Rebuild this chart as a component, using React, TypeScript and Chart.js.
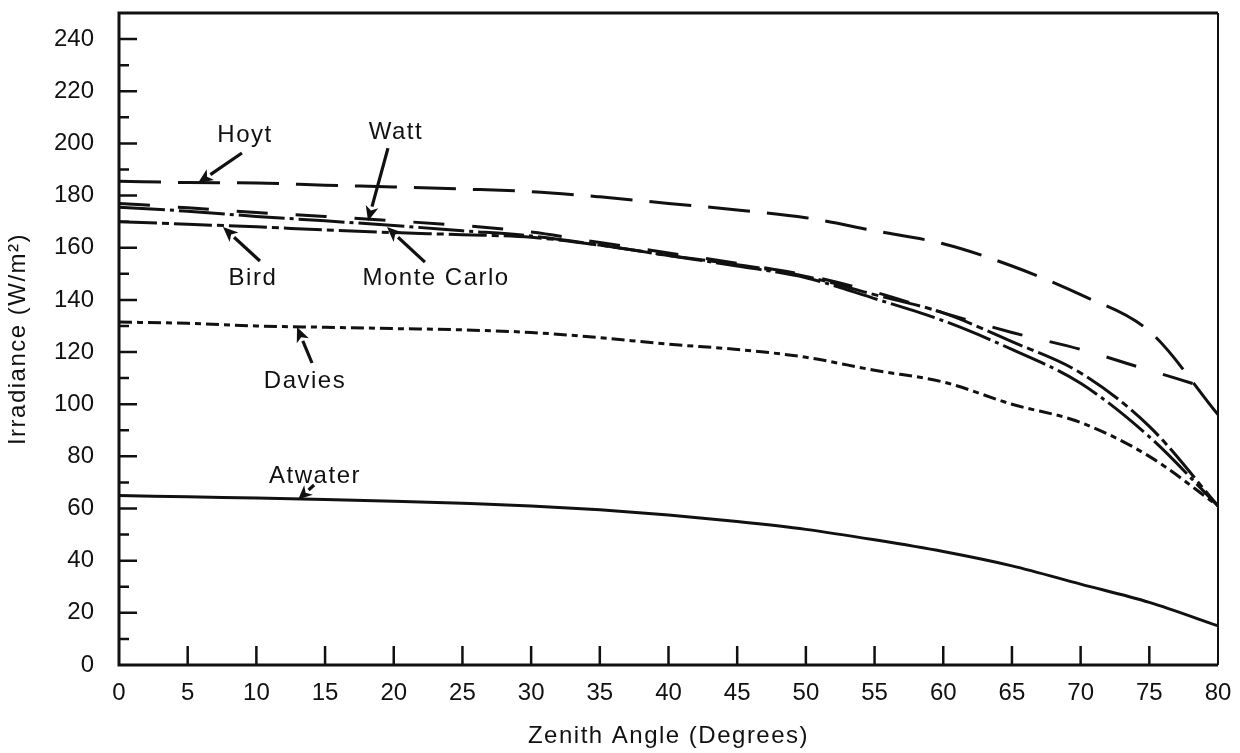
import { useEffect, useRef } from 'react';
import { Chart, registerables } from 'chart.js';

Chart.register(...registerables);

// Zenith angle (degrees) and modelled irradiance (W/m²) for each model
const zenithAngles = [0, 5, 10, 15, 20, 25, 30, 35, 40, 45, 50, 55, 60, 65, 70, 75, 80];
const hoyt = [185.5, 185, 184.8, 184, 183.3, 182.5, 181.5, 179.5, 177, 174.5, 171.5, 166.5, 161.5, 153, 142, 128, 96];
const watt = [177, 175.3, 173.5, 172, 170.3, 168.5, 166, 162, 158, 154, 149.5, 143, 135, 127.5, 121, 113, 105];
const bird = [170, 169, 168, 166.8, 165.8, 165, 164, 161, 157, 153.5, 149, 142, 135, 124, 112, 91.5, 61];
const monteCarlo = [175.5, 174, 172, 170.3, 168.5, 166.5, 164.5, 161, 157, 153, 148.5, 140.5, 132, 121, 108, 87.5, 61];
const davies = [131.5, 131, 130, 129.5, 129, 128.5, 127.5, 125.5, 123, 121, 118, 113, 108.5, 100, 93, 80, 61];
const atwater = [65, 64.5, 64, 63.5, 62.8, 62, 61, 59.5, 57.5, 55, 52, 48, 43.5, 38, 31, 24, 15];

// Axis ticks
const xTickValues = [0, 5, 10, 15, 20, 25, 30, 35, 40, 45, 50, 55, 60, 65, 70, 75, 80];
const yTickValues = [0, 20, 40, 60, 80, 100, 120, 140, 160, 180, 200, 220, 240];
const yMinorTickValues = [10, 30, 50, 70, 90, 110, 130, 150, 170, 190, 210, 230];

const xTitle = 'Zenith Angle (Degrees)';
const yTitle = 'Irradiance (W/m²)';

// Curve callouts: label text, label centre, arrow tail and arrow head (data units)
const calloutNames = ['Hoyt', 'Watt', 'Bird', 'Monte Carlo', 'Davies', 'Atwater'];
const calloutCentres = [[9.17, 203], [20.16, 204.4], [9.75, 148.4], [23.08, 148.4], [13.54, 108.9], [14.27, 72.2]];
const calloutTails = [[8.95, 196.3], [19.58, 198.2], [10.26, 154.9], [22.27, 154.5], [14.05, 115.8], [14.2, 69.0]];
const calloutHeads = [[5.75, 184.8], [18.13, 170.2], [7.57, 167.9], [19.51, 167.9], [12.96, 129.6], [13.05, 63.6]];

const FONT_FAMILY = '"Liberation Sans", Arial, Helvetica, sans-serif';
const INK = '#111111';

function points(values: number[]) {
  return zenithAngles.map((x, i) => ({ x, y: values[i] }));
}

function drawArrow(ctx: CanvasRenderingContext2D, x0: number, y0: number, x1: number, y1: number) {
  const ang = Math.atan2(y1 - y0, x1 - x0);
  const len = Math.hypot(x1 - x0, y1 - y0);
  const headLen = Math.min(15, len * 0.65);
  const headHalf = 6.5;
  const bx = x1 - Math.cos(ang) * headLen;
  const by = y1 - Math.sin(ang) * headLen;
  ctx.lineWidth = 3.2;
  ctx.beginPath();
  ctx.moveTo(x0, y0);
  ctx.lineTo(bx, by);
  ctx.stroke();
  ctx.beginPath();
  ctx.moveTo(x1, y1);
  ctx.lineTo(bx + Math.sin(ang) * headHalf, by - Math.cos(ang) * headHalf);
  ctx.lineTo(bx + Math.cos(ang) * 4, by + Math.sin(ang) * 4);
  ctx.lineTo(bx - Math.sin(ang) * headHalf, by + Math.cos(ang) * headHalf);
  ctx.closePath();
  ctx.fill();
}

const frameAndLabels = {
  id: 'frameAndLabels',
  afterDraw(chart: any) {
    const { ctx, chartArea: a, scales } = chart;
    const xs = scales.x;
    const ys = scales.y;
    ctx.save();
    ctx.strokeStyle = INK;
    ctx.fillStyle = INK;
    ctx.lineCap = 'butt';

    // plot frame
    ctx.lineWidth = 3;
    ctx.beginPath();
    ctx.moveTo(a.right, a.top);
    ctx.lineTo(a.left, a.top);
    ctx.lineTo(a.left, a.bottom);
    ctx.lineTo(a.right, a.bottom);
    ctx.stroke();
    ctx.lineWidth = 2;
    ctx.beginPath();
    ctx.moveTo(a.right, a.top);
    ctx.lineTo(a.right, a.bottom);
    ctx.stroke();

    // inward tick marks
    ctx.lineWidth = 2.5;
    ctx.beginPath();
    yTickValues.forEach((v) => {
      if (v === 0) return;
      const y = ys.getPixelForValue(v);
      ctx.moveTo(a.left, y);
      ctx.lineTo(a.left + 18, y);
    });
    yMinorTickValues.forEach((v) => {
      const y = ys.getPixelForValue(v);
      ctx.moveTo(a.left, y);
      ctx.lineTo(a.left + 10, y);
    });
    xTickValues.forEach((v) => {
      if (v === xs.min || v === xs.max) return;
      const x = xs.getPixelForValue(v);
      ctx.moveTo(x, a.bottom);
      ctx.lineTo(x, a.bottom - 19);
    });
    ctx.stroke();

    // callout arrows
    calloutNames.forEach((_, i) => {
      drawArrow(
        ctx,
        xs.getPixelForValue(calloutTails[i][0]),
        ys.getPixelForValue(calloutTails[i][1]),
        xs.getPixelForValue(calloutHeads[i][0]),
        ys.getPixelForValue(calloutHeads[i][1])
      );
    });

    // callout labels and axis titles
    ctx.font = `24px ${FONT_FAMILY}`;
    (ctx as any).letterSpacing = '1.5px';
    ctx.textAlign = 'center';
    ctx.textBaseline = 'middle';
    calloutNames.forEach((name, i) => {
      ctx.fillText(name, xs.getPixelForValue(calloutCentres[i][0]), ys.getPixelForValue(calloutCentres[i][1]));
    });
    ctx.fillText(xTitle, (a.left + a.right) / 2, 736);
    ctx.save();
    ctx.translate(18, (a.top + a.bottom) / 2);
    ctx.rotate(-Math.PI / 2);
    ctx.fillText(yTitle, 0, 0);
    ctx.restore();
    ctx.restore();
  },
};

export default function App() {
  const canvasRef = useRef<HTMLCanvasElement | null>(null);

  useEffect(() => {
    const canvas = canvasRef.current;
    if (!canvas) return;
    const common = {
      borderColor: INK,
      backgroundColor: INK,
      borderWidth: 3,
      pointRadius: 0,
      fill: false,
      cubicInterpolationMode: 'monotone' as const,
      borderCapStyle: 'butt' as const,
    };
    const chart = new Chart(canvas, {
      type: 'line',
      data: {
        datasets: [
          { label: 'Hoyt', data: points(hoyt), borderDash: [42, 17], ...common },
          { label: 'Watt', data: points(watt), borderDash: [31, 28], ...common },
          { label: 'Bird', data: points(bird), borderDash: [38, 5, 7, 5], ...common },
          { label: 'Monte Carlo', data: points(monteCarlo), borderDash: [46, 5, 4, 5], ...common },
          { label: 'Davies', data: points(davies), borderDash: [13, 5, 6, 5], ...common },
          { label: 'Atwater', data: points(atwater), ...common },
        ],
      },
      options: {
        responsive: false,
        animation: false,
        events: [],
        layout: { padding: { top: 13, right: 22, left: 0, bottom: 0 } },
        plugins: { legend: { display: false }, tooltip: { enabled: false } },
        scales: {
          x: {
            type: 'linear',
            min: 0,
            max: 80,
            grid: { display: false, drawTicks: false },
            border: { display: false },
            afterFit: (s: any) => {
              s.height = 88;
              s.paddingLeft = 0;
              s.paddingRight = 0;
            },
            afterBuildTicks: (s: any) => {
              s.ticks = xTickValues.map((value) => ({ value }));
            },
            ticks: {
              autoSkip: false,
              maxRotation: 0,
              padding: 14,
              color: INK,
              font: { family: FONT_FAMILY, size: 24 },
            },
          },
          y: {
            type: 'linear',
            min: 0,
            max: 250,
            grid: { display: false, drawTicks: false },
            border: { display: false },
            afterFit: (s: any) => {
              s.width = 119;
              s.paddingTop = 0;
              s.paddingBottom = 0;
            },
            afterBuildTicks: (s: any) => {
              s.ticks = yTickValues.map((value) => ({ value }));
            },
            ticks: {
              padding: 25,
              color: INK,
              font: { family: FONT_FAMILY, size: 24 },
            },
          },
        },
      },
      plugins: [frameAndLabels],
    });
    return () => chart.destroy();
  }, []);

  return (
    <div style={{ position: 'relative', width: 1240, height: 753 }}>
      <canvas
        ref={canvasRef}
        width={1240}
        height={753}
        style={{ position: 'fixed', left: 0, top: 0, width: 1240, height: 753, background: '#fff' }}
      />
    </div>
  );
}
